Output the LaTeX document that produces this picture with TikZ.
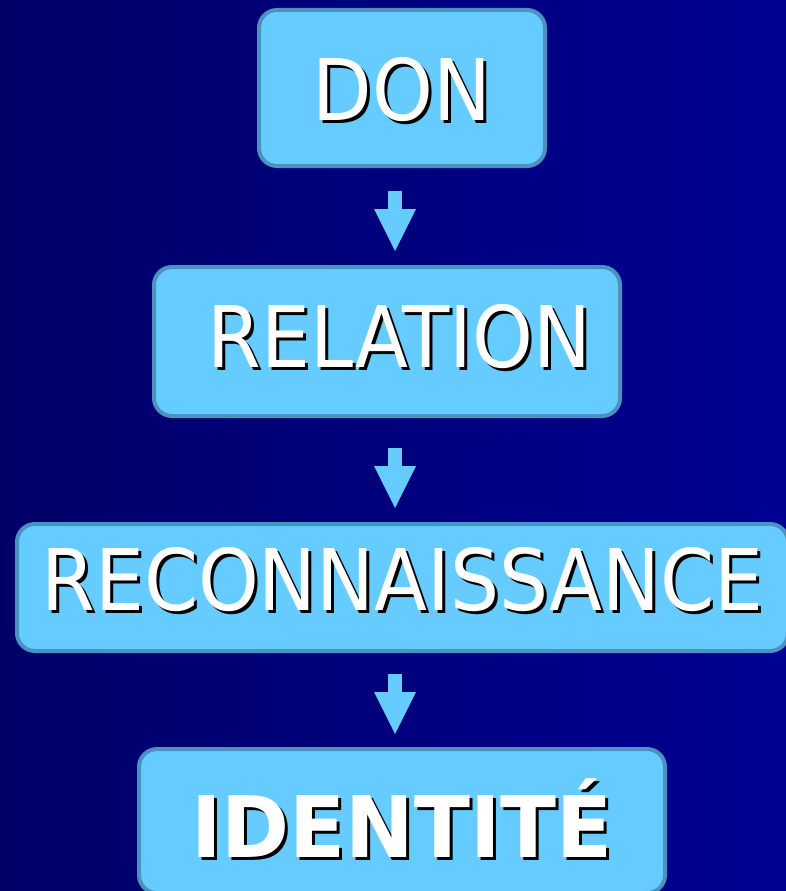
\documentclass[tikz,border=0pt]{standalone}
\usepackage{fontspec}
\setmainfont{DejaVu Sans}[FakeStretch=0.91]
\newfontfamily\idfont{DejaVu Sans}[FakeStretch=0.965]
\usetikzlibrary{arrows.meta, positioning}
\definecolor{bgleft}{RGB}{0,0,104}
\definecolor{bgright}{RGB}{0,0,146}
\definecolor{boxfill}{RGB}{102,204,255}
\definecolor{boxline}{RGB}{74,146,192}
\newcommand\shadowtext[1]{\rlap{\kern3pt\raisebox{-3pt}{\color{black}#1}}{\color{white}#1}}

\begin{document}
\begin{tikzpicture}[x=1pt, y=-1pt,
		box/.style={draw=boxline, fill=boxfill, line width=4pt, rounded corners=18pt,
						text height=62pt, text depth=0pt, font=\fontsize{85}{90}\selectfont},
		flow/.style={draw=boxfill, line width=14pt,
						-{Triangle[length=42pt, width=42pt, line width=0pt]}}]
			\useasboundingbox (0,0) rectangle (786,891);
			\shade[left color=bgleft, right color=bgright] (0,0) rectangle (786,891);

			\node[box, minimum width=286, minimum height=156] (D) at (402,88) {\raisebox{-1.5pt}{\shadowtext{DON}}};
			\node[box, minimum width=466, minimum height=149] (R) at (387,341.5) {\raisebox{5pt}{\shadowtext{\ RELATION}}};
			\node[box, minimum width=771, minimum height=127] (C) at (402.5,587.5) {\raisebox{8.5pt}{\shadowtext{RECONNAISSANCE}}};
			\node[box, minimum width=526, minimum height=144] (I) at (402,821) {\idfont\bfseries\raisebox{-5pt}{\shadowtext{IDENTITÉ}}};

			\coordinate (ax) at (395,0);
			\draw[flow, shorten <=23pt, shorten >=14pt] (D.south -| ax) -- (R.north -| ax);
			\draw[flow, shorten <=30pt, shorten >=14pt] (R.south -| ax) -- (C.north -| ax);
			\draw[flow, shorten <=21pt, shorten >=13pt] (C.south -| ax) -- (I.north -| ax);
		\end{tikzpicture}
\end{document}
